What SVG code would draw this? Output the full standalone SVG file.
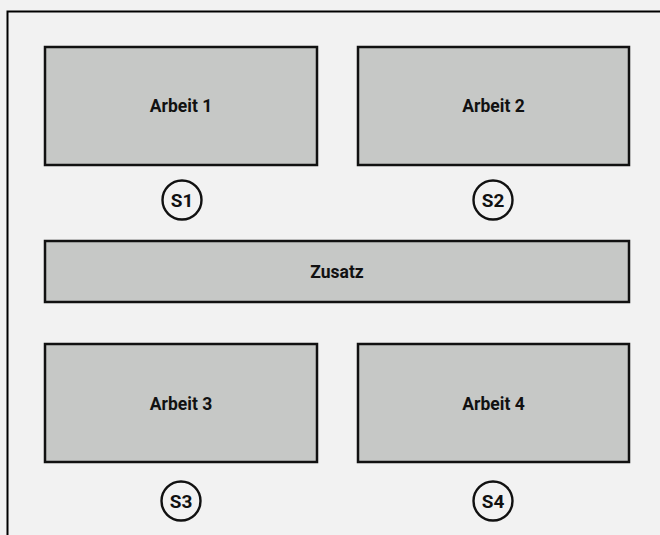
<svg xmlns="http://www.w3.org/2000/svg" width="660" height="535" viewBox="0 0 660 535">
<style>
.bg{fill:#f2f2f2}
.frame{fill:none;stroke:#000;stroke-width:2}
.box{fill:#c6c8c6;stroke:#111;stroke-width:2.5}
.lbl{font-family:"Roboto","Liberation Sans",sans-serif;font-weight:bold;font-size:17.5px;fill:#111;text-anchor:middle;dominant-baseline:central}
.circ{fill:none;stroke:#111;stroke-width:2.4}
.slbl{font-family:"Roboto","Liberation Sans",sans-serif;font-weight:bold;font-size:19px;fill:#111;text-anchor:middle;dominant-baseline:central}
</style>
<rect class="bg" x="0" y="0" width="660" height="535"/>
<rect class="frame" x="7.5" y="11.5" width="700" height="600"/>
<g id="arbeit1"><rect class="box" x="45" y="47" width="272" height="118"/><text class="lbl" x="181" y="106">Arbeit 1</text></g>
<g id="arbeit2"><rect class="box" x="358" y="47" width="271" height="118"/><text class="lbl" x="493.5" y="106">Arbeit 2</text></g>
<g id="s1"><circle class="circ" cx="182" cy="200" r="19.5"/><text class="slbl" x="182" y="200">S1</text></g>
<g id="s2"><circle class="circ" cx="493" cy="200" r="19.5"/><text class="slbl" x="493" y="200">S2</text></g>
<g id="zusatz"><rect class="box" x="45" y="241" width="584" height="61"/><text class="lbl" x="337" y="272">Zusatz</text></g>
<g id="arbeit3"><rect class="box" x="45" y="344" width="272" height="118"/><text class="lbl" x="181" y="404">Arbeit 3</text></g>
<g id="arbeit4"><rect class="box" x="358" y="344" width="271" height="118"/><text class="lbl" x="493.5" y="404">Arbeit 4</text></g>
<g id="s3"><circle class="circ" cx="181" cy="501" r="19.5"/><text class="slbl" x="181" y="501">S3</text></g>
<g id="s4"><circle class="circ" cx="493" cy="501" r="19.5"/><text class="slbl" x="493" y="501">S4</text></g>
<g id="connectors"></g>
</svg>
